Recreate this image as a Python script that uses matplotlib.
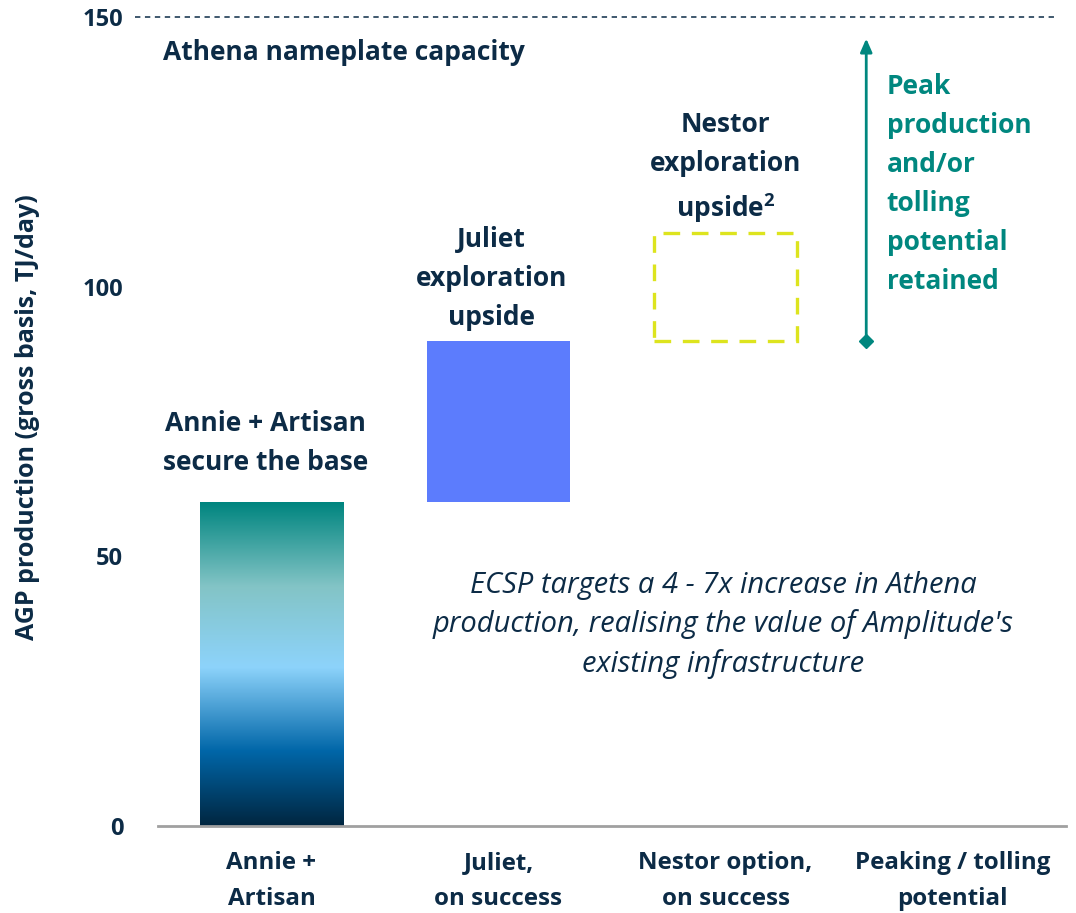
import numpy as np
import matplotlib
matplotlib.use("Agg")
import matplotlib.pyplot as plt
from matplotlib.colors import LinearSegmentedColormap

plt.rcParams['font.family'] = ['Open Sans', 'DejaVu Sans']
plt.rcParams['mathtext.fontset'] = 'custom'
plt.rcParams['mathtext.rm'] = 'Open Sans'
plt.rcParams['mathtext.bf'] = 'Open Sans:bold'

# ---- data ----
categories = ["Annie +\nArtisan", "Juliet,\non success", "Nestor option,\non success", "Peaking / tolling\npotential"]
bar_bottoms = [0, 60, 90]
bar_tops = [60, 90, 110]
capacity = 150
arrow_from = 90
arrow_to = 146
arrow_x = 2.62
yticks = [0, 50, 100, 150]

NAVY = "#0C2B46"
TEAL = "#00877F"

fig = plt.figure(figsize=(10.76, 9.13), dpi=100)
ax = fig.add_axes([158/1076, (913-826)/913, 908/1076, (826-17)/913])
ax.set_xlim(-0.5, 3.5)
ax.set_ylim(0, 150)

w = 0.63
# Annie + Artisan gradient bar
b0 = ax.bar(0, bar_tops[0]-bar_bottoms[0], bottom=bar_bottoms[0], width=w, color="none", edgecolor="none")[0]
cmap = LinearSegmentedColormap.from_list("g", [
    (0.0, "#002640"), (0.23, "#0066A8"), (0.49, "#8DD3FB"), (0.74, "#83C4C6"), (1.0, "#00857F")])
grad = np.linspace(0, 1, 256).reshape(-1, 1)
im = ax.imshow(grad, cmap=cmap, origin="lower", aspect="auto",
               extent=[0-w/2, 0+w/2, bar_bottoms[0], bar_tops[0]], zorder=2)
im.set_clip_path(b0)

# Juliet bar
ax.bar(1, bar_tops[1]-bar_bottoms[1], bottom=bar_bottoms[1], width=w, color="#5C7CFD", zorder=2)
# Nestor dashed box
ax.bar(2, bar_tops[2]-bar_bottoms[2], bottom=bar_bottoms[2], width=w, facecolor="none",
       edgecolor="#DDE41E", linewidth=2.4, linestyle=(0, (5, 3.5)), zorder=2)

# capacity line
ax.plot([-0.6, 3.45], [capacity, capacity], color=NAVY, linestyle=(0, (3.5, 3)), linewidth=1.1, clip_on=False)

# arrow
ax.annotate("", xy=(arrow_x, arrow_to), xytext=(arrow_x, arrow_from),
            arrowprops=dict(arrowstyle="-|>,head_length=0.8,head_width=0.35", color=TEAL, lw=2, shrinkA=0, shrinkB=0))
ax.plot([arrow_x], [arrow_from], marker="D", color=TEAL, markersize=7, clip_on=False)

# axes styling
for s in ["top", "right", "left"]:
    ax.spines[s].set_visible(False)
ax.spines["bottom"].set_color("#A0A0A0")
ax.spines["bottom"].set_linewidth(2)
ax.set_yticks(yticks)
ax.set_yticklabels([str(v) for v in yticks], fontsize=17, fontweight="bold", color=NAVY)
ax.tick_params(axis="y", length=0, pad=25)
ax.set_xticks(range(len(categories)))
ax.set_xticklabels(categories, fontsize=17.4, fontweight="bold", color=NAVY, linespacing=1.65)
ax.tick_params(axis="x", length=0, pad=18)
ax.set_ylabel("AGP production (gross basis, TJ/day)", fontsize=18, fontweight="bold", color=NAVY, labelpad=18)
ax.yaxis.set_label_coords(-0.13, 0.505)

tkw = dict(fontsize=19, fontweight="bold", color=NAVY, ha="center", va="center", linespacing=1.57)
ax.text(-0.5 + 5/227, 143.5, "Athena nameplate capacity", fontsize=19, fontweight="bold", color=NAVY, ha="left", va="center")
ax.text(-0.026, 71.0, "Annie + Artisan\nsecure the base", **tkw)
ax.text(0.97, 101.6, "Juliet\nexploration\nupside", **tkw)
ax.text(2.0, 122.0, "Nestor\nexploration\nupside$^{\\mathbf{2}}$", **tkw)
ax.text(2.71, 119.0, "Peak\nproduction\nand/or\ntolling\npotential\nretained", fontsize=19, fontweight="bold",
        color=TEAL, ha="left", va="center", linespacing=1.57)
ax.text(1.99, 37.3, "ECSP targets a 4 - 7x increase in Athena\nproduction, realising the value of Amplitude's\nexisting infrastructure",
        fontsize=21, style="italic", color=NAVY, ha="center", va="center", linespacing=1.42)

fig.savefig("out.png", dpi=100)
